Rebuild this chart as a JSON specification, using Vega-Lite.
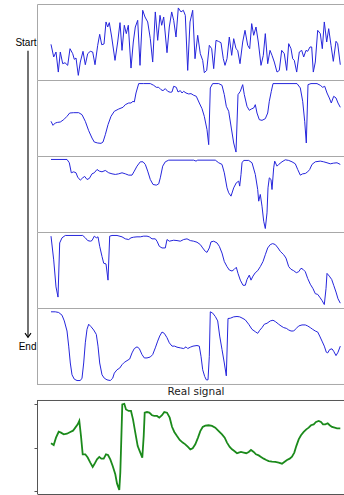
{
"$schema": "https://vega.github.io/schema/vega-lite/v6.json",
"padding": {"left": 14, "top": 4, "right": 0, "bottom": 0},
"config": {"view": {"stroke": null}, "font": "DejaVu Sans", "axis": {"grid": false, "title": null}},
"datasets": {
"one": [{}],
"s1": [{"t":0,"v":46.6},{"t":2.7,"v":28.3},{"t":5,"v":35.5},{"t":7.3,"v":6.5},{"t":9.3,"v":35.5},{"t":11.7,"v":18.6},{"t":14,"v":20},{"t":16.7,"v":16.2},{"t":19,"v":40.3},{"t":21.7,"v":33.1},{"t":23.3,"v":24.9},{"t":25,"v":26.8},{"t":27.3,"v":1.7},{"t":29.3,"v":21},{"t":32,"v":36.5},{"t":34.3,"v":17.1},{"t":36.7,"v":33.1},{"t":39.3,"v":36.5},{"t":41.7,"v":35.5},{"t":44,"v":17.1},{"t":46.7,"v":45.2},{"t":48.7,"v":61.1},{"t":50.7,"v":46.1},{"t":53,"v":47.1},{"t":55,"v":79},{"t":56.7,"v":71.7},{"t":58.3,"v":78},{"t":60.7,"v":57.2},{"t":64,"v":23.4},{"t":66.7,"v":50},{"t":69,"v":78},{"t":71,"v":37.9},{"t":73.3,"v":74.2},{"t":75.3,"v":62.1},{"t":77.3,"v":74.2},{"t":80,"v":12.3},{"t":82.3,"v":50},{"t":84.3,"v":71.7},{"t":86.7,"v":81.4},{"t":89,"v":16.2},{"t":91.7,"v":95.9},{"t":94,"v":86.2},{"t":96.7,"v":79},{"t":99.3,"v":54.8},{"t":101.7,"v":21},{"t":104.3,"v":93.5},{"t":106.7,"v":52.4},{"t":109,"v":88.6},{"t":110.7,"v":74.2},{"t":112.7,"v":86.2},{"t":116,"v":34.5},{"t":118.3,"v":71.7},{"t":120.7,"v":93.5},{"t":122.7,"v":81.4},{"t":125,"v":57.2},{"t":127.3,"v":99.3},{"t":130,"v":93.5},{"t":132.3,"v":95.9},{"t":134.3,"v":88.6},{"t":136.7,"v":8.9},{"t":139,"v":79},{"t":141.7,"v":95.9},{"t":144,"v":25.8},{"t":146.7,"v":59.7},{"t":149.3,"v":33.1},{"t":151.7,"v":23.4},{"t":153.3,"v":5.6},{"t":155.7,"v":8.9},{"t":158.3,"v":45.2},{"t":160.7,"v":40.3},{"t":162.7,"v":11.4},{"t":165,"v":52.4},{"t":167.3,"v":51},{"t":170,"v":49},{"t":172.3,"v":25.8},{"t":174,"v":16.2},{"t":176,"v":25.8},{"t":178.3,"v":57.2},{"t":180.7,"v":30.7},{"t":182.7,"v":54.8},{"t":185,"v":40.3},{"t":186.7,"v":37.9},{"t":189,"v":18.6},{"t":191.7,"v":50},{"t":194,"v":66.9},{"t":196.7,"v":45.2},{"t":198.7,"v":40.3},{"t":200.7,"v":76.6},{"t":202.7,"v":59.7},{"t":205,"v":71.7},{"t":207.3,"v":50},{"t":210,"v":16.2},{"t":212.3,"v":30.7},{"t":214.3,"v":62.1},{"t":216.7,"v":18.6},{"t":219,"v":37.9},{"t":221,"v":30.7},{"t":223.3,"v":21},{"t":226,"v":6.5},{"t":228.3,"v":8.9},{"t":230.7,"v":37.9},{"t":233.3,"v":33.1},{"t":235.7,"v":8.9},{"t":237.7,"v":47.6},{"t":240,"v":40.3},{"t":241.7,"v":25.8},{"t":243.3,"v":23.4},{"t":245.7,"v":6.5},{"t":248.3,"v":35.5},{"t":250.7,"v":37.9},{"t":252.7,"v":28.3},{"t":255,"v":37.9},{"t":256.7,"v":36.5},{"t":259,"v":42.8},{"t":260.7,"v":42.8},{"t":262.3,"v":6.5},{"t":264.3,"v":21},{"t":266.7,"v":66.9},{"t":269.3,"v":62.1},{"t":271.3,"v":40.3},{"t":273.3,"v":79},{"t":275.7,"v":50},{"t":277.7,"v":69.3},{"t":280,"v":45.2},{"t":282.3,"v":22},{"t":285,"v":51},{"t":286.7,"v":47.6},{"t":289.3,"v":17.1}],
"s2": [{"t":0,"v":45.2},{"t":2,"v":39.4},{"t":4.3,"v":42.8},{"t":6.7,"v":43.7},{"t":9.3,"v":44.2},{"t":12.7,"v":47.6},{"t":16,"v":52.4},{"t":18.7,"v":57.2},{"t":22.7,"v":57.7},{"t":27.7,"v":57.7},{"t":31,"v":54.8},{"t":34.3,"v":45.2},{"t":37.7,"v":31.6},{"t":41,"v":21},{"t":43.3,"v":15.2},{"t":46.7,"v":13.8},{"t":50,"v":13.3},{"t":52,"v":15.2},{"t":54.3,"v":25.8},{"t":57,"v":40.3},{"t":60,"v":52.4},{"t":63.3,"v":59.7},{"t":67.7,"v":63},{"t":72,"v":65.5},{"t":74.3,"v":69.3},{"t":77.7,"v":71.7},{"t":80,"v":71.7},{"t":82,"v":74.2},{"t":83.3,"v":73.2},{"t":85,"v":86.2},{"t":87.7,"v":99.8},{"t":92.7,"v":99.8},{"t":99.3,"v":99.8},{"t":102.7,"v":97.3},{"t":105.3,"v":94.4},{"t":107.7,"v":94.4},{"t":110,"v":91},{"t":112,"v":89.6},{"t":114.3,"v":92.5},{"t":116.7,"v":88.6},{"t":119.3,"v":87.2},{"t":121,"v":87.7},{"t":122.7,"v":95.9},{"t":125.3,"v":94.4},{"t":127,"v":87.7},{"t":129.3,"v":89.6},{"t":131,"v":86.2},{"t":132.7,"v":88.6},{"t":135,"v":86.2},{"t":137.7,"v":84.8},{"t":140,"v":85.3},{"t":142.7,"v":82.9},{"t":145.3,"v":81.4},{"t":148.3,"v":71.7},{"t":151,"v":63.5},{"t":153.3,"v":52.4},{"t":156,"v":33.1},{"t":157.7,"v":11.4},{"t":159.3,"v":93.5},{"t":161.7,"v":99.8},{"t":167.7,"v":99.8},{"t":171,"v":97.3},{"t":173.3,"v":83.8},{"t":175.3,"v":66.9},{"t":177.7,"v":59.7},{"t":180.3,"v":35.5},{"t":182.7,"v":13.8},{"t":185,"v":0.7},{"t":187,"v":83.8},{"t":189.3,"v":88.6},{"t":191.7,"v":98.3},{"t":193.3,"v":83.8},{"t":196,"v":66.9},{"t":198.3,"v":61.1},{"t":200.3,"v":63},{"t":202.7,"v":64.5},{"t":204.3,"v":69.3},{"t":206,"v":57.2},{"t":208.3,"v":47.6},{"t":211,"v":46.6},{"t":214.3,"v":49},{"t":216.7,"v":57.2},{"t":218.3,"v":74.2},{"t":220.3,"v":88.6},{"t":222,"v":99.8},{"t":246,"v":99.8},{"t":249.3,"v":93.5},{"t":251.7,"v":74.2},{"t":253.7,"v":45.2},{"t":255.3,"v":13.8},{"t":257,"v":98.3},{"t":260,"v":99.8},{"t":266,"v":99.8},{"t":269.3,"v":97.3},{"t":271.7,"v":94.4},{"t":273.7,"v":95.9},{"t":276,"v":86.2},{"t":278.3,"v":79},{"t":280.3,"v":71.7},{"t":282.7,"v":81.4},{"t":285,"v":79},{"t":287,"v":71.7},{"t":289.3,"v":65.5}],
"s3": [{"t":0,"v":100},{"t":16,"v":100},{"t":18.3,"v":95.2},{"t":20.3,"v":80.7},{"t":22.7,"v":82.1},{"t":25,"v":80.7},{"t":26.7,"v":74.4},{"t":29.3,"v":70},{"t":31.7,"v":73.4},{"t":33.7,"v":75.4},{"t":36,"v":71},{"t":38.3,"v":72.5},{"t":41,"v":79.2},{"t":43.3,"v":80.7},{"t":46,"v":85.5},{"t":48.3,"v":83.1},{"t":51,"v":82.1},{"t":54.3,"v":84.1},{"t":57.7,"v":80.7},{"t":61,"v":79.2},{"t":64.3,"v":78.3},{"t":67.7,"v":79.2},{"t":71,"v":80.7},{"t":74.3,"v":79.2},{"t":77.7,"v":77.3},{"t":81,"v":77.3},{"t":83.3,"v":83.1},{"t":86,"v":90.3},{"t":89.3,"v":96.6},{"t":92,"v":96.6},{"t":94.3,"v":92.8},{"t":96.7,"v":83.1},{"t":99.3,"v":71},{"t":102,"v":63.8},{"t":105.3,"v":62.8},{"t":107.7,"v":64.7},{"t":109.3,"v":73.4},{"t":111.7,"v":90.3},{"t":114.3,"v":96.6},{"t":117.7,"v":99},{"t":142.7,"v":99},{"t":145,"v":97.6},{"t":146.7,"v":99},{"t":164.3,"v":99},{"t":167.7,"v":95.2},{"t":171,"v":92.8},{"t":173.3,"v":80.7},{"t":176,"v":58.9},{"t":177.7,"v":51.7},{"t":180,"v":46.9},{"t":182.7,"v":58.9},{"t":185.3,"v":66.2},{"t":187.7,"v":68.6},{"t":188.7,"v":61.4},{"t":190,"v":78.3},{"t":191,"v":95.2},{"t":192.7,"v":98.6},{"t":197.7,"v":98.6},{"t":201,"v":95.2},{"t":204.3,"v":78.3},{"t":206.7,"v":56.5},{"t":207.7,"v":39.6},{"t":209.3,"v":49.3},{"t":211,"v":32.4},{"t":212.7,"v":10.6},{"t":214.3,"v":0},{"t":216,"v":22.7},{"t":217,"v":58.9},{"t":218.3,"v":73.4},{"t":220,"v":71},{"t":221,"v":56.5},{"t":222.7,"v":87.9},{"t":223.7,"v":97.6},{"t":226,"v":90.3},{"t":227.7,"v":92.8},{"t":231,"v":96.6},{"t":234.3,"v":99.5},{"t":237.7,"v":98.6},{"t":241,"v":96.6},{"t":244.3,"v":93.7},{"t":246.7,"v":85.5},{"t":249.3,"v":77.3},{"t":251.7,"v":79.2},{"t":254.3,"v":79.7},{"t":256.7,"v":82.1},{"t":258.7,"v":85.5},{"t":261,"v":92.8},{"t":264.3,"v":96.6},{"t":269.3,"v":97.6},{"t":272.7,"v":96.6},{"t":276,"v":95.2},{"t":279.3,"v":93.7},{"t":282.7,"v":94.7},{"t":286,"v":95.2},{"t":289.3,"v":92.8}],
"s4": [{"t":0,"v":99},{"t":2.7,"v":64.7},{"t":5,"v":25.5},{"t":7,"v":10.8},{"t":8.7,"v":89.2},{"t":11,"v":96.6},{"t":14.3,"v":100},{"t":31.7,"v":100},{"t":34.3,"v":96.6},{"t":36.7,"v":92.6},{"t":39.3,"v":91.7},{"t":41,"v":92.6},{"t":43.3,"v":99},{"t":45.3,"v":96.6},{"t":47,"v":98},{"t":48.7,"v":84.3},{"t":51,"v":69.6},{"t":52.7,"v":59.8},{"t":55,"v":58.8},{"t":57,"v":35.3},{"t":58.7,"v":99},{"t":61,"v":100},{"t":66,"v":100},{"t":71,"v":98},{"t":74.3,"v":95.1},{"t":77.7,"v":94.1},{"t":80,"v":96.6},{"t":82.7,"v":97.5},{"t":86,"v":98},{"t":89.3,"v":98},{"t":92.7,"v":99},{"t":96,"v":99},{"t":98.3,"v":98},{"t":101,"v":95.1},{"t":104.3,"v":95.1},{"t":106,"v":91.7},{"t":108.3,"v":84.3},{"t":111,"v":81.9},{"t":114.3,"v":81.9},{"t":116,"v":94.1},{"t":118.3,"v":91.7},{"t":122.7,"v":93.1},{"t":126,"v":92.6},{"t":129.3,"v":91.7},{"t":132.7,"v":94.1},{"t":136,"v":95.1},{"t":139.3,"v":92.6},{"t":142.7,"v":91.7},{"t":146,"v":90.2},{"t":149.3,"v":86.8},{"t":151.7,"v":81.9},{"t":154.3,"v":77},{"t":156,"v":75.5},{"t":158.3,"v":81.9},{"t":160,"v":90.7},{"t":162.7,"v":91.7},{"t":166,"v":89.2},{"t":168.3,"v":84.3},{"t":171,"v":74.5},{"t":173.3,"v":62.3},{"t":176,"v":54.9},{"t":178.3,"v":50},{"t":181,"v":48.5},{"t":183.3,"v":51},{"t":185.3,"v":53.9},{"t":187,"v":45.1},{"t":189.3,"v":35.3},{"t":192,"v":27.9},{"t":194.3,"v":27.9},{"t":196,"v":36.3},{"t":198.3,"v":42.6},{"t":200,"v":35.3},{"t":202,"v":41.2},{"t":204.3,"v":46.1},{"t":206.7,"v":49},{"t":209.3,"v":54.9},{"t":212,"v":62.3},{"t":214.3,"v":72.1},{"t":216.7,"v":81.9},{"t":219.3,"v":86.8},{"t":221.7,"v":88.2},{"t":224.3,"v":86.8},{"t":227,"v":81.9},{"t":229.3,"v":77},{"t":232.7,"v":72.1},{"t":235,"v":67.2},{"t":237.7,"v":54.9},{"t":240,"v":51},{"t":242.7,"v":49},{"t":245.3,"v":46.1},{"t":247.7,"v":47.5},{"t":250,"v":52.5},{"t":252,"v":51},{"t":254.3,"v":47.5},{"t":256.7,"v":37.7},{"t":259.3,"v":29.4},{"t":262,"v":23},{"t":264.3,"v":15.7},{"t":266.7,"v":14.7},{"t":268.7,"v":10.8},{"t":271,"v":5.9},{"t":273.3,"v":0},{"t":275,"v":23},{"t":276,"v":45.1},{"t":278.3,"v":41.2},{"t":280.7,"v":36.3},{"t":282.7,"v":27.9},{"t":285,"v":18.1},{"t":287,"v":8.3},{"t":289.3,"v":2}],
"s5": [{"t":0,"v":99.5},{"t":4.3,"v":99.5},{"t":7.7,"v":98.5},{"t":11,"v":94.6},{"t":13.3,"v":86.3},{"t":16,"v":71.7},{"t":17.7,"v":49.8},{"t":19.3,"v":25.4},{"t":21,"v":8.3},{"t":23.3,"v":2},{"t":26,"v":0},{"t":29.3,"v":0},{"t":31,"v":3.4},{"t":32.7,"v":25.4},{"t":34.3,"v":54.6},{"t":36,"v":74.1},{"t":37.7,"v":81.5},{"t":40,"v":78},{"t":42.7,"v":73.2},{"t":45.3,"v":66.8},{"t":47,"v":49.8},{"t":48.7,"v":25.4},{"t":51,"v":8.3},{"t":53.3,"v":3.4},{"t":56,"v":1},{"t":59.3,"v":0},{"t":61.7,"v":3.4},{"t":63.3,"v":10.7},{"t":66,"v":15.6},{"t":68.7,"v":18},{"t":71,"v":22.9},{"t":73.3,"v":26.3},{"t":76,"v":28.8},{"t":78.7,"v":31.2},{"t":81,"v":40},{"t":83.3,"v":46.3},{"t":86,"v":48.8},{"t":88.3,"v":46.3},{"t":91,"v":37.6},{"t":93.3,"v":32.7},{"t":96,"v":32.7},{"t":99.3,"v":34.1},{"t":101.7,"v":37.6},{"t":104.3,"v":47.3},{"t":106.7,"v":57.1},{"t":108.7,"v":64.4},{"t":111,"v":70.2},{"t":113.3,"v":68.3},{"t":116,"v":62},{"t":118.3,"v":54.6},{"t":121,"v":49.8},{"t":123.7,"v":49.8},{"t":126,"v":48.3},{"t":129.3,"v":47.3},{"t":132.7,"v":46.3},{"t":135,"v":48.8},{"t":136.7,"v":46.3},{"t":139.3,"v":48.3},{"t":142,"v":49.8},{"t":146,"v":50.7},{"t":148.3,"v":49.8},{"t":150,"v":35.1},{"t":151.7,"v":15.6},{"t":153.7,"v":5.9},{"t":155.3,"v":1},{"t":157,"v":1},{"t":158.3,"v":35.1},{"t":159.3,"v":99.5},{"t":161.7,"v":97.6},{"t":164.3,"v":92.7},{"t":166.7,"v":86.3},{"t":168.7,"v":64.4},{"t":171,"v":44.9},{"t":173.3,"v":25.4},{"t":175.3,"v":6.8},{"t":177,"v":89.8},{"t":179.3,"v":90.2},{"t":182.7,"v":92.2},{"t":186,"v":92.7},{"t":188.7,"v":92.2},{"t":192,"v":89.8},{"t":194.3,"v":87.8},{"t":197.7,"v":81.5},{"t":201,"v":74.1},{"t":204.3,"v":70.7},{"t":206.7,"v":68.3},{"t":208.7,"v":72.7},{"t":211,"v":76.6},{"t":213.3,"v":81.5},{"t":216,"v":82.9},{"t":219.3,"v":86.3},{"t":222,"v":87.3},{"t":224.3,"v":85.4},{"t":227.7,"v":81.5},{"t":230,"v":79},{"t":232.7,"v":76.6},{"t":235.3,"v":75.6},{"t":237.7,"v":73.2},{"t":240,"v":71.7},{"t":242.7,"v":71.7},{"t":245,"v":75.1},{"t":247.7,"v":79},{"t":251,"v":80.5},{"t":254.3,"v":80.5},{"t":256.7,"v":79},{"t":259.3,"v":76.6},{"t":261.7,"v":74.1},{"t":264.3,"v":71.7},{"t":266.7,"v":70.2},{"t":268.7,"v":64.4},{"t":271,"v":57.1},{"t":273.3,"v":49.8},{"t":275.3,"v":41},{"t":276.7,"v":40},{"t":278.7,"v":44.9},{"t":281,"v":45.9},{"t":282.7,"v":42.4},{"t":285,"v":36.1},{"t":287,"v":41},{"t":289.3,"v":49.8}],
"real": [{"t":0,"v":2.2},{"t":2.7,"v":2.12},{"t":5,"v":2.46},{"t":7.7,"v":2.73},{"t":10,"v":2.69},{"t":12.7,"v":2.61},{"t":16,"v":2.64},{"t":19.3,"v":2.72},{"t":22,"v":2.78},{"t":24.3,"v":2.92},{"t":26.7,"v":3.07},{"t":28.3,"v":3.23},{"t":30,"v":2.53},{"t":31.7,"v":1.69},{"t":34.3,"v":1.69},{"t":36.7,"v":1.54},{"t":39.3,"v":1.31},{"t":41.7,"v":1.11},{"t":43.3,"v":1.23},{"t":46,"v":1.46},{"t":48.3,"v":1.57},{"t":50.3,"v":1.49},{"t":52.7,"v":1.49},{"t":55,"v":1.69},{"t":57,"v":1.66},{"t":59.3,"v":1.46},{"t":61.7,"v":1.15},{"t":64.3,"v":0.77},{"t":66,"v":0.35},{"t":68.3,"v":0.05},{"t":69.3,"v":0.84},{"t":70.3,"v":2.38},{"t":71.3,"v":3.99},{"t":73.3,"v":4.02},{"t":75,"v":3.76},{"t":77.7,"v":3.69},{"t":80,"v":3.69},{"t":82,"v":3.3},{"t":84.3,"v":2.69},{"t":86.7,"v":2.07},{"t":88.7,"v":1.84},{"t":91.3,"v":1.54},{"t":92.7,"v":2.53},{"t":93.7,"v":3.61},{"t":96,"v":3.64},{"t":98.3,"v":3.61},{"t":101,"v":3.49},{"t":103.3,"v":3.46},{"t":106,"v":3.46},{"t":108.3,"v":3.38},{"t":111,"v":3.49},{"t":113.3,"v":3.64},{"t":116,"v":3.61},{"t":118.7,"v":3.38},{"t":121,"v":2.96},{"t":123.3,"v":2.72},{"t":126,"v":2.53},{"t":128.7,"v":2.35},{"t":131.7,"v":2.23},{"t":134.3,"v":2.15},{"t":136.7,"v":2.04},{"t":139.3,"v":1.92},{"t":141.7,"v":1.97},{"t":144.3,"v":2.15},{"t":147,"v":2.46},{"t":149.3,"v":2.76},{"t":151.7,"v":2.95},{"t":154.3,"v":3.01},{"t":157.7,"v":3.03},{"t":161,"v":3},{"t":164.3,"v":2.92},{"t":167.7,"v":2.76},{"t":171,"v":2.61},{"t":173.7,"v":2.46},{"t":176,"v":2.23},{"t":178.7,"v":2.03},{"t":181,"v":1.92},{"t":183.3,"v":1.84},{"t":186,"v":1.74},{"t":187.7,"v":1.77},{"t":190,"v":1.8},{"t":192.7,"v":1.77},{"t":195.3,"v":1.74},{"t":197.7,"v":1.8},{"t":200,"v":1.89},{"t":202.7,"v":1.8},{"t":205,"v":1.69},{"t":207.7,"v":1.64},{"t":210,"v":1.57},{"t":212.7,"v":1.49},{"t":215.3,"v":1.43},{"t":217.7,"v":1.38},{"t":221,"v":1.35},{"t":224.3,"v":1.34},{"t":227.7,"v":1.31},{"t":231,"v":1.26},{"t":233.3,"v":1.34},{"t":236,"v":1.43},{"t":238.7,"v":1.49},{"t":241,"v":1.58},{"t":243.3,"v":1.77},{"t":245.3,"v":2.07},{"t":247.7,"v":2.38},{"t":250,"v":2.57},{"t":252.7,"v":2.72},{"t":255.3,"v":2.84},{"t":257.7,"v":2.92},{"t":260,"v":3.03},{"t":262.7,"v":3.07},{"t":265,"v":3.18},{"t":267.7,"v":3.23},{"t":270,"v":3.18},{"t":272,"v":3.07},{"t":274.3,"v":3.07},{"t":276.7,"v":3.12},{"t":278.7,"v":3.03},{"t":281,"v":2.95},{"t":283.7,"v":2.92},{"t":286,"v":2.89},{"t":289.3,"v":2.89}]
},
"vconcat": [
  {"width": 307, "height": 76,
   "layer": [
     {"data": {"name": "s1"},
      "mark": {"type": "line", "color": "#2626dc", "strokeWidth": 1},
      "encoding": {
        "x": {"field": "t", "type": "quantitative", "scale": {"domain": [-14, 293], "nice": false, "zero": false}, "axis": {"orient": "top", "domain": true, "domainColor": "#a8a8a8", "ticks": false, "labels": false, "grid": false, "title": null}},
        "y": {"field": "v", "type": "quantitative", "scale": {"domain": [-5, 105], "nice": false, "zero": false}, "axis": {"domainColor": "#a8a8a8", "ticks": false, "tickSize": 0, "values": [50], "labelExpr": "'Start'", "labelPadding": 1, "labelFont": "Liberation Sans", "labelFontSize": 10, "labelColor": "#000000", "grid": false, "title": null}}
      }},
     {"data": {"name": "one"},
      "mark": {"type": "rule", "color": "#000000", "strokeWidth": 1.1, "clip": false},
      "encoding": {
        "x": {"datum": -23, "type": "quantitative"},
        "y": {"datum": 37.4, "type": "quantitative"},
        "y2": {"datum": -377.4}
      }},
     {"data": {"name": "one"},
      "mark": {"type": "point", "shape": "M-1,-1.4L0,0L1,-1.4", "filled": false, "size": 36, "color": "#000000", "strokeWidth": 1.1, "opacity": 1, "clip": false},
      "encoding": {
        "x": {"datum": -23, "type": "quantitative"},
        "y": {"datum": -377.4, "type": "quantitative"}
      }}
   ]},
  {"width": 307, "height": 76, "data": {"name": "s2"},
   "mark": {"type": "line", "color": "#2626dc", "strokeWidth": 1},
   "encoding": {
     "x": {"field": "t", "type": "quantitative", "scale": {"domain": [-14, 293], "nice": false, "zero": false}, "axis": {"orient": "top", "domain": true, "domainColor": "#a8a8a8", "ticks": false, "labels": false, "grid": false, "title": null}},
     "y": {"field": "v", "type": "quantitative", "scale": {"domain": [-5, 105], "nice": false, "zero": false}, "axis": {"domainColor": "#a8a8a8", "ticks": false, "labels": false, "grid": false, "title": null}}
   }},
  {"width": 307, "height": 76, "data": {"name": "s3"},
   "mark": {"type": "line", "color": "#2626dc", "strokeWidth": 1},
   "encoding": {
     "x": {"field": "t", "type": "quantitative", "scale": {"domain": [-14, 293], "nice": false, "zero": false}, "axis": {"orient": "top", "domain": true, "domainColor": "#a8a8a8", "ticks": false, "labels": false, "grid": false, "title": null}},
     "y": {"field": "v", "type": "quantitative", "scale": {"domain": [-5, 105], "nice": false, "zero": false}, "axis": {"domainColor": "#a8a8a8", "ticks": false, "labels": false, "grid": false, "title": null}}
   }},
  {"width": 307, "height": 76, "data": {"name": "s4"},
   "mark": {"type": "line", "color": "#2626dc", "strokeWidth": 1},
   "encoding": {
     "x": {"field": "t", "type": "quantitative", "scale": {"domain": [-14, 293], "nice": false, "zero": false}, "axis": {"orient": "top", "domain": true, "domainColor": "#a8a8a8", "ticks": false, "labels": false, "grid": false, "title": null}},
     "y": {"field": "v", "type": "quantitative", "scale": {"domain": [-5, 105], "nice": false, "zero": false}, "axis": {"domainColor": "#a8a8a8", "ticks": false, "labels": false, "grid": false, "title": null}}
   }},
  {"width": 307, "height": 76,
   "layer": [
     {"data": {"name": "s5"},
      "mark": {"type": "line", "color": "#2626dc", "strokeWidth": 1},
      "encoding": {
        "x": {"field": "t", "type": "quantitative", "scale": {"domain": [-14, 293], "nice": false, "zero": false}, "axis": {"orient": "top", "domain": true, "domainColor": "#a8a8a8", "ticks": false, "labels": false, "grid": false, "title": null}},
        "y": {"field": "v", "type": "quantitative", "scale": {"domain": [-5, 105], "nice": false, "zero": false}, "axis": {"domainColor": "#a8a8a8", "ticks": false, "tickSize": 0, "values": [50], "labelExpr": "'End'", "labelPadding": 1, "labelFont": "Liberation Sans", "labelFontSize": 10, "labelColor": "#000000", "grid": false, "title": null}}
      }},
     {"data": {"name": "one"},
      "mark": {"type": "rule", "color": "#a8a8a8", "strokeWidth": 1, "clip": false},
      "encoding": {"y": {"datum": -5.7, "type": "quantitative"}}}
   ]},
  {"width": 307, "height": 110,
   "layer": [
     {"data": {"name": "real"},
      "mark": {"type": "line", "color": "#1b8a1b", "strokeWidth": 1.8},
      "encoding": {
        "x": {"field": "t", "type": "quantitative", "scale": {"domain": [-14, 293], "nice": false, "zero": false}, "axis": {"orient": "bottom", "domain": true, "domainColor": "#555555", "ticks": false, "labels": false, "grid": false, "title": null}},
        "y": {"field": "v", "type": "quantitative", "scale": {"domain": [-0.138, 4.931], "nice": false, "zero": false}, "axis": {"domain": false, "ticks": true, "tickColor": "#555555", "tickSize": 3, "values": [0, 1, 2, 3, 4], "labels": false, "grid": false, "title": null}}
      }},
     {"data": {"name": "one"},
      "mark": {"type": "rule", "color": "#555555", "strokeWidth": 1},
      "encoding": {"y": {"datum": 4.171, "type": "quantitative"}}},
     {"data": {"name": "one"},
      "mark": {"type": "rule", "color": "#555555", "strokeWidth": 1},
      "encoding": {"x": {"datum": -13.5, "type": "quantitative"}, "y": {"datum": -0.138, "type": "quantitative"}, "y2": {"datum": 4.171}}},
     {"data": {"name": "one"},
      "mark": {"type": "text", "text": "Real signal", "font": "DejaVu Sans", "fontSize": 10.5, "color": "#222222", "align": "center", "baseline": "alphabetic"},
      "encoding": {"x": {"datum": 145, "type": "quantitative"}, "y": {"datum": 4.424, "type": "quantitative"}}}
   ]}
],
"spacing": 0,
"bounds": "flush"
}
